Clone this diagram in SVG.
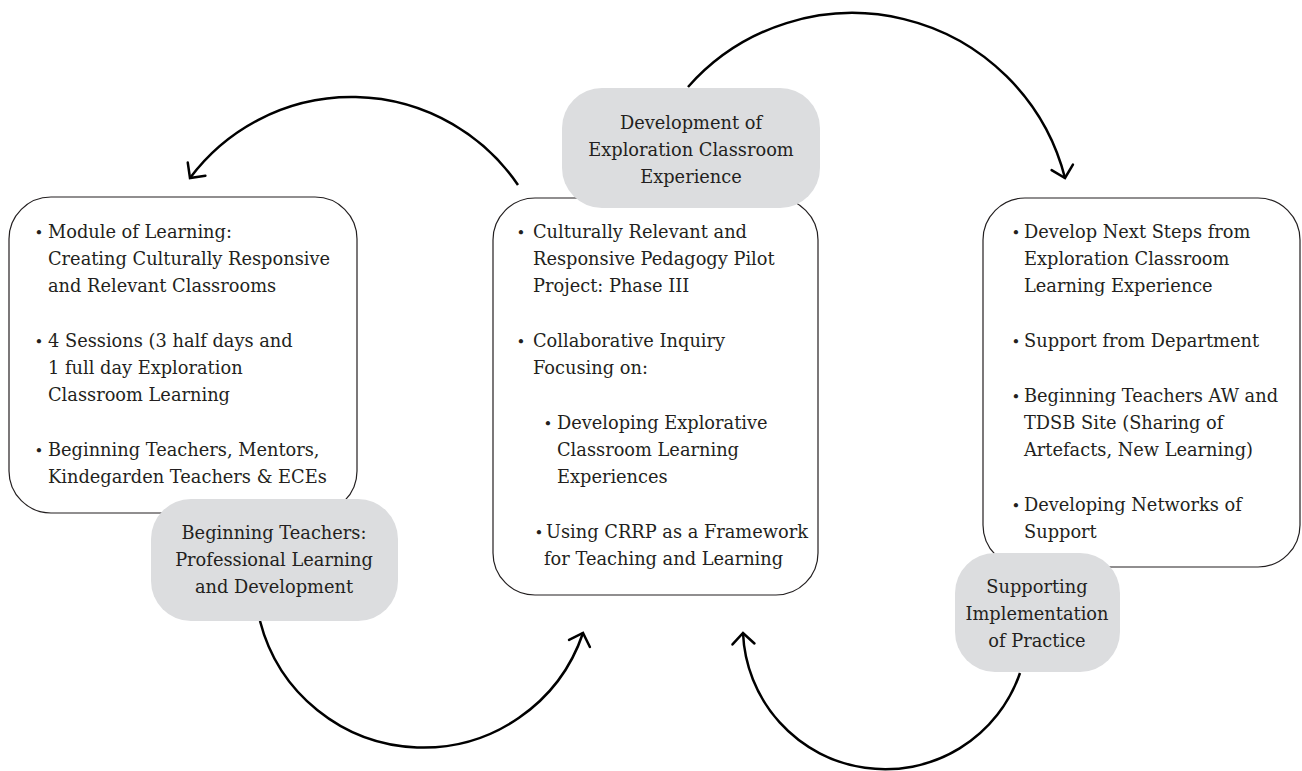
<svg xmlns="http://www.w3.org/2000/svg" width="1302" height="771" viewBox="0 0 1302 771">
  <defs>
    <marker id="arr" markerUnits="userSpaceOnUse" markerWidth="30" markerHeight="30" viewBox="-15 -15 30 30" refX="0" refY="0" orient="auto" overflow="visible">
      <path d="M-11,-11 L0,0 L-11,11" fill="none" stroke="#000" stroke-width="2.5" stroke-linecap="round" stroke-linejoin="miter"/>
    </marker>
  </defs>
  <style>
    .box { fill: #fff; stroke: #231f20; stroke-width: 1.2; }
    .lbl { fill: #dcdddf; stroke: none; }
    .t { font-family: "DejaVu Serif", "Liberation Serif", serif; font-size: 17.8px; fill: #231f20; }
    .c { text-anchor: middle; }
    .b { font-family: "DejaVu Serif", "Liberation Serif", serif; font-size: 15px; fill: #231f20; text-anchor: middle; }
    .arc { fill: none; stroke: #000; stroke-width: 2.5; marker-end: url(#arr); }
  </style>
  <rect width="1302" height="771" fill="#fff"/>

  <g id="connectors">
    <path class="arc" d="M518,185 A201.5,201.5 0 0 0 190,178"/>
    <path class="arc" d="M688,87 A219.5,219.5 0 0 1 1065,178"/>
    <path class="arc" d="M260,621 A168.6,168.6 0 0 0 583,633"/>
    <path class="arc" d="M1020,673 A142.4,142.4 0 0 1 743,633"/>
  </g>

  <g id="box-left">
    <rect class="box" x="9" y="197" width="348" height="316" rx="42" ry="42"/>
    <text class="b" x="39" y="238">•</text>
    <text class="t" x="48" y="238">Module of Learning:</text>
    <text class="t" x="48" y="265">Creating Culturally Responsive</text>
    <text class="t" x="48" y="292">and Relevant Classrooms</text>
    <text class="b" x="39" y="347">•</text>
    <text class="t" x="48" y="347">4 Sessions (3 half days and</text>
    <text class="t" x="48" y="374">1 full day Exploration</text>
    <text class="t" x="48" y="401">Classroom Learning</text>
    <text class="b" x="39" y="456">•</text>
    <text class="t" x="48" y="456">Beginning Teachers, Mentors,</text>
    <text class="t" x="48" y="483">Kindegarden Teachers &amp; ECEs</text>
  </g>

  <g id="box-center">
    <rect class="box" x="493" y="198" width="325" height="397" rx="42" ry="42"/>
    <text class="b" x="521" y="238">•</text>
    <text class="t" x="533" y="238">Culturally Relevant and</text>
    <text class="t" x="533" y="265">Responsive Pedagogy Pilot</text>
    <text class="t" x="533" y="292">Project: Phase III</text>
    <text class="b" x="521" y="347">•</text>
    <text class="t" x="533" y="347">Collaborative Inquiry</text>
    <text class="t" x="533" y="374">Focusing on:</text>
    <text class="b" x="548" y="429">•</text>
    <text class="t" x="557" y="429">Developing Explorative</text>
    <text class="t" x="557" y="456">Classroom Learning</text>
    <text class="t" x="557" y="483">Experiences</text>
    <text class="b" x="539" y="538">•</text>
    <text class="t" x="546" y="538">Using CRRP as a Framework</text>
    <text class="t" x="544" y="565">for Teaching and Learning</text>
  </g>

  <g id="box-right">
    <rect class="box" x="983" y="198" width="317" height="369" rx="42" ry="42"/>
    <text class="b" x="1016" y="238">•</text>
    <text class="t" x="1024" y="238">Develop Next Steps from</text>
    <text class="t" x="1024" y="265">Exploration Classroom</text>
    <text class="t" x="1024" y="292">Learning Experience</text>
    <text class="b" x="1016" y="347">•</text>
    <text class="t" x="1024" y="347">Support from Department</text>
    <text class="b" x="1016" y="402">•</text>
    <text class="t" x="1024" y="402">Beginning Teachers AW and</text>
    <text class="t" x="1024" y="429">TDSB Site (Sharing of</text>
    <text class="t" x="1024" y="456">Artefacts, New Learning)</text>
    <text class="b" x="1016" y="511">•</text>
    <text class="t" x="1024" y="511">Developing Networks of</text>
    <text class="t" x="1024" y="538">Support</text>
  </g>

  <g id="label-top">
    <rect class="lbl" x="562" y="88" width="258" height="120" rx="40" ry="40"/>
    <text class="t c" x="691" y="129">Development of</text>
    <text class="t c" x="691" y="156">Exploration Classroom</text>
    <text class="t c" x="691" y="183">Experience</text>
  </g>

  <g id="label-left">
    <rect class="lbl" x="151" y="499" width="247" height="122" rx="40" ry="40"/>
    <text class="t c" x="274" y="539">Beginning Teachers:</text>
    <text class="t c" x="274" y="566">Professional Learning</text>
    <text class="t c" x="274" y="593">and Development</text>
  </g>

  <g id="label-right">
    <rect class="lbl" x="955" y="553" width="165" height="119" rx="40" ry="40"/>
    <text class="t c" x="1037" y="593">Supporting</text>
    <text class="t c" x="1037" y="620">Implementation</text>
    <text class="t c" x="1037" y="647">of Practice</text>
  </g>
</svg>
